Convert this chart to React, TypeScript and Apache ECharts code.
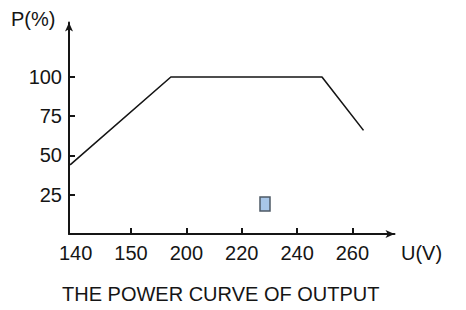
import React, { useEffect, useRef } from "react";
import * as echarts from "echarts";

// Tick labels of the (non-linear) voltage axis, one per slot
const voltTicks = [140, 150, 200, 220, 240, 260];
// Power curve: input voltage (V) and output power (%)
const curveVolt = [139, 186, 249, 264];
const curvePower = [44, 100, 100, 66];
// Y-axis tick values
const powerTicks = [25, 50, 75, 100];

// map a voltage to its slot position along the piecewise axis
function voltToSlot(v: number): number {
  const t = voltTicks;
  if (v <= t[0]) return (v - t[0]) / (t[1] - t[0]);
  for (let i = 0; i < t.length - 1; i++) {
    if (v <= t[i + 1]) return i + (v - t[i]) / (t[i + 1] - t[i]);
  }
  const n = t.length - 1;
  return n + (v - t[n]) / (t[n] - t[n - 1]);
}

const FONT = "'Liberation Sans', Arial, sans-serif";
const INK = "#151515";

export default function App() {
  const ref = useRef<HTMLDivElement>(null);
  useEffect(() => {
    if (!ref.current) return;
    const chart = echarts.init(ref.current, undefined, { renderer: "svg" });
    const lineData = curveVolt.map((v, i) => [voltToSlot(v), curvePower[i]]);
    chart.setOption({
      animation: false,
      backgroundColor: "#ffffff",
      grid: { left: 69, right: 71.5, top: 22.5, bottom: 76, containLabel: false },
      xAxis: {
        type: "value",
        min: -0.12,
        max: 5.76,
        splitLine: { show: false },
        axisLine: {
          show: true,
          onZero: false,
          symbol: ["none", "arrow"],
          symbolSize: [6, 9],
          lineStyle: { color: INK, width: 2 },
        },
        axisTick: {
          show: true,
          inside: true,
          length: 6,
          lineStyle: { color: INK, width: 2 },
          customValues: voltTicks.slice(1).map((_, i) => i + 1),
        },
        axisLabel: {
          show: true,
          margin: 9,
          fontSize: 20,
          fontFamily: FONT,
          color: INK,
          customValues: voltTicks.map((_, i) => i),
          formatter: (val: number) => {
            const i = Math.round(val);
            return voltTicks[i] !== undefined ? String(voltTicks[i]) : "";
          },
        },
      },
      yAxis: {
        type: "value",
        min: 0,
        max: 134.7,
        splitLine: { show: false },
        axisLine: {
          show: true,
          onZero: false,
          symbol: ["none", "arrow"],
          symbolSize: [6, 9],
          lineStyle: { color: INK, width: 2 },
        },
        axisTick: {
          show: true,
          inside: true,
          length: 6,
          lineStyle: { color: INK, width: 2 },
          customValues: powerTicks,
        },
        axisLabel: {
          show: true,
          margin: 7,
          fontSize: 20,
          fontFamily: FONT,
          color: INK,
          customValues: powerTicks,
        },
      },
      series: [
        {
          type: "line",
          data: lineData,
          symbol: "none",
          clip: true,
          lineStyle: { color: INK, width: 1.6 },
          silent: true,
        },
      ],
      graphic: [
        {
          type: "text",
          left: 11,
          top: 9,
          style: { text: "P(%)", fontSize: 20, fontFamily: FONT, fill: INK },
        },
        {
          type: "text",
          left: 401,
          top: 243,
          style: { text: "U(V)", fontSize: 20, fontFamily: FONT, fill: INK },
        },
        {
          type: "text",
          left: 62,
          top: 284,
          style: { text: "THE POWER CURVE OF OUTPUT", fontSize: 20, fontFamily: FONT, fill: INK },
        },
        {
          type: "rect",
          shape: { x: 260, y: 197, width: 10, height: 14 },
          style: { fill: "#a8c6e8", stroke: "#4d5a66", lineWidth: 1.5 },
        },
      ],
    });
    return () => chart.dispose();
  }, []);
  return (
    <div
      ref={ref}
      style={{ position: "fixed", left: 0, top: 0, width: 466, height: 310 }}
    />
  );
}
